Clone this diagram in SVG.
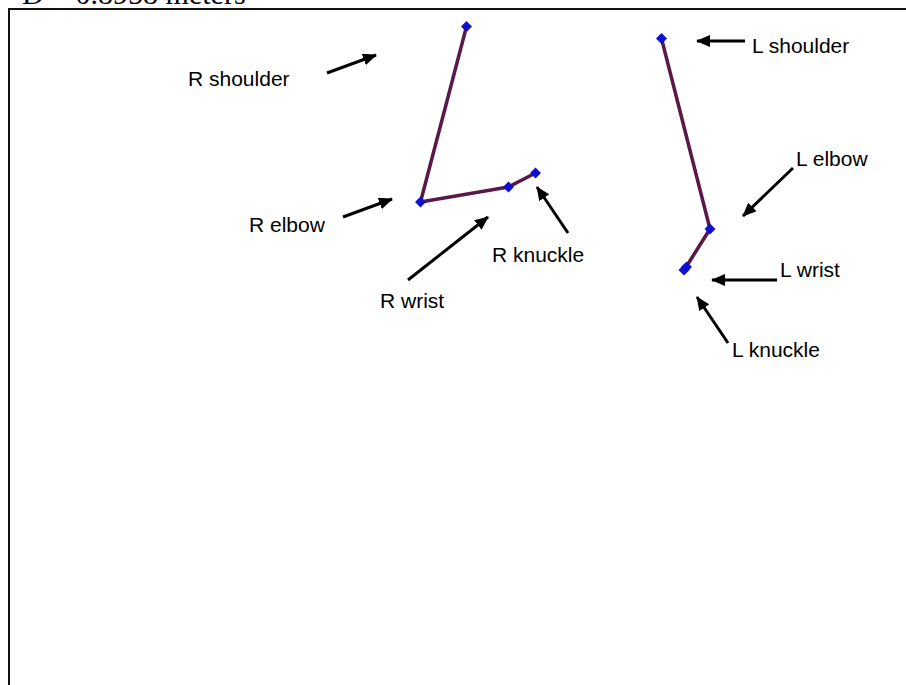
<svg xmlns="http://www.w3.org/2000/svg" width="906" height="685" viewBox="0 0 906 685">
<defs>
<marker id="ah" viewBox="0 0 14 12" refX="13" refY="6" markerWidth="14" markerHeight="12" markerUnits="userSpaceOnUse" orient="auto">
<path d="M0,0 L14,6 L0,12 z" fill="#000"/>
</marker>
<style>
.lbl{font-family:"Liberation Sans",Arial,sans-serif;font-size:21px;fill:#000}
.arr{stroke:#000;stroke-width:3;fill:none;marker-end:url(#ah)}
.limb{stroke:#5a1848;stroke-width:3.5;fill:none;stroke-linejoin:round}
.jt{fill:#1010d0}
</style>
</defs>
<rect width="906" height="685" fill="#fff"/>
<text x="22" y="4" font-family="'Liberation Serif','Times New Roman',serif" font-size="30">D = 0.8958 meters</text>
<rect x="9" y="9" width="920" height="700" fill="#fff" stroke="#111" stroke-width="2"/>

<g id="skeleton">
<polyline class="limb" points="466.5,26.5 420.5,202 508.5,187 535.5,173"/>
<polyline class="limb" points="661.5,38.5 710,229 684.5,269.5"/>
</g>

<g id="joint-r-shoulder"><path class="jt" d="M466.5,21 L472,26.5 L466.5,32 L461,26.5 z"/></g>
<g id="joint-r-elbow"><path class="jt" d="M420.5,196.5 L426,202 L420.5,207.5 L415,202 z"/></g>
<g id="joint-r-wrist"><path class="jt" d="M508.5,181.5 L514,187 L508.5,192.5 L503,187 z"/></g>
<g id="joint-r-knuckle"><path class="jt" d="M535.5,167.5 L541,173 L535.5,178.5 L530,173 z"/></g>
<g id="joint-l-shoulder"><path class="jt" d="M661.5,33 L667,38.5 L661.5,44 L656,38.5 z"/></g>
<g id="joint-l-elbow"><path class="jt" d="M710,223.5 L715.5,229 L710,234.5 L704.5,229 z"/></g>
<g id="joint-l-wrist"><path class="jt" d="M686.5,261.5 L692,267 L686.5,272.5 L681,267 z"/></g>
<g id="joint-l-knuckle"><path class="jt" d="M684,264.5 L689.5,270 L684,275.5 L678.5,270 z"/></g>

<g id="connectors">
<line class="arr" x1="327" y1="73" x2="376" y2="55"/>
<line class="arr" x1="343" y1="217" x2="392" y2="199"/>
<line class="arr" x1="408" y1="280" x2="488" y2="217"/>
<line class="arr" x1="568" y1="233" x2="537" y2="187"/>
<line class="arr" x1="745" y1="41" x2="697" y2="41"/>
<line class="arr" x1="793" y1="168" x2="743" y2="216"/>
<line class="arr" x1="777" y1="280" x2="712" y2="280"/>
<line class="arr" x1="728" y1="343" x2="697" y2="297"/>
</g>

<g id="label-r-shoulder"><text class="lbl" x="188" y="86">R shoulder</text></g>
<g id="label-r-elbow"><text class="lbl" x="249" y="232">R elbow</text></g>
<g id="label-r-wrist"><text class="lbl" x="380" y="308">R wrist</text></g>
<g id="label-r-knuckle"><text class="lbl" x="492" y="262">R knuckle</text></g>
<g id="label-l-shoulder"><text class="lbl" x="752" y="53">L shoulder</text></g>
<g id="label-l-elbow"><text class="lbl" x="796" y="166">L elbow</text></g>
<g id="label-l-wrist"><text class="lbl" x="780" y="277">L wrist</text></g>
<g id="label-l-knuckle"><text class="lbl" x="732" y="357">L knuckle</text></g>
</svg>
